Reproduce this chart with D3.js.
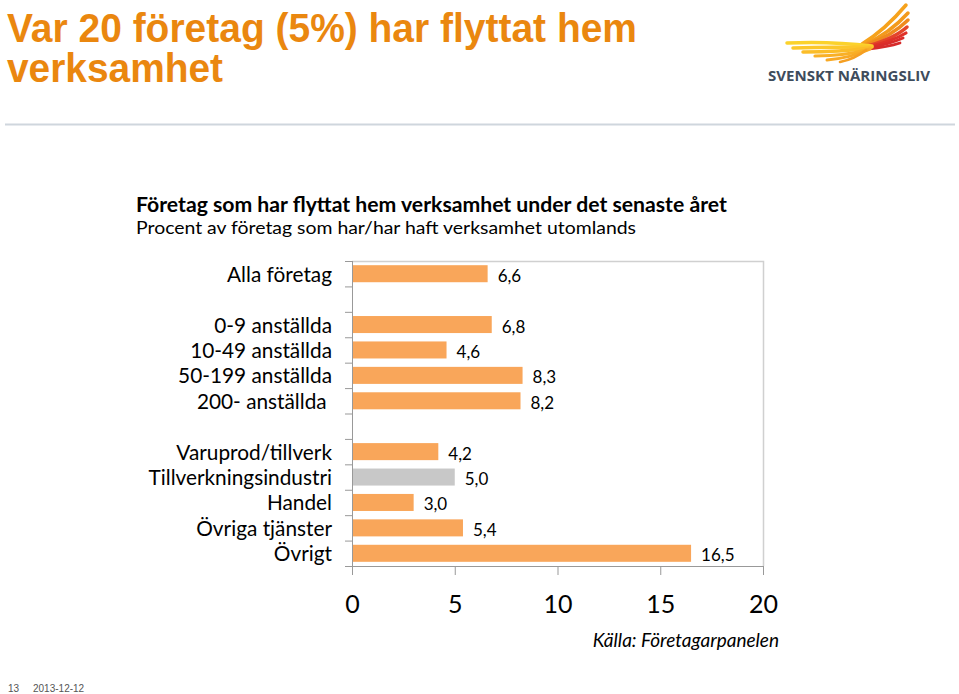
<!DOCTYPE html>
<html>
<head>
<meta charset="utf-8">
<script src="https://cdn.jsdelivr.net/npm/d3@7"></script>
<style>
  body { margin: 0; background: #fff; }
  svg { display: block; }
</style>
</head>
<body>
<div id="chart"></div>
<script>
// Data
const categories = [
  'Alla företag',
  '',
  '0-9 anställda',
  '10-49 anställda',
  '50-199 anställda',
  '200- anställda ',
  '',
  'Varuprod/tillverk',
  'Tillverkningsindustri',
  'Handel',
  'Övriga tjänster',
  'Övrigt',
];
const values = [6.6, null, 6.8, 4.6, 8.3, 8.2, null, 4.2, 5.0, 3.0, 5.4, 16.5];
const highlighted = [false, false, false, false, false, false, false, false, true, false, false, false];
const xTicks = [0, 5, 10, 15, 20];

// Dimensions
const width = 959;
const height = 694;
const plot = { left: 352, right: 763, top: 261, bottom: 566 };

const orange = '#f9a65a';
const grey = '#c8c8c8';
const calibri = 'Lato, "Open Sans", sans-serif';

const svg = d3.select('#chart')
  .append('svg')
  .attr('width', width)
  .attr('height', height);

// Title
const title = svg.append('g')
  .attr('font-family', '"Liberation Sans", Arial, sans-serif')
  .attr('font-weight', 'bold')
  .attr('font-size', 40)
  .attr('fill', '#ea870f');
title.append('text').attr('x', 7).attr('y', 42)
  .attr('textLength', 630).attr('lengthAdjust', 'spacingAndGlyphs')
  .text('Var 20 företag (5%) har flyttat hem');
title.append('text').attr('x', 7).attr('y', 82)
  .attr('textLength', 216).attr('lengthAdjust', 'spacingAndGlyphs')
  .text('verksamhet');

// Logo: fanned wing
const logo = svg.append('g');
const feathers = [
  // [tipX, tipY, baseX, baseY, ctrlX, ctrlY, colour, width]
  [906, 5, 862, 44, 885, 30, '#f6a21c', 3.5],
  [908, 13, 864, 45, 890, 33, '#f39a1c', 3.5],
  [908, 20, 866, 45, 892, 36, '#ef8a1e', 3.5],
  [907, 27, 868, 46, 895, 38, '#e4452a', 3.5],
  [906, 33, 868, 47, 893, 41, '#df3128', 3.2],
  [903, 38, 868, 48, 890, 44, '#d92c2a', 3],
  [900, 43, 868, 49, 888, 47, '#d62b2b', 2.8],
  [787, 43, 872, 46, 830, 41, '#fbd22c', 3.5],
  [793, 48, 872, 47, 835, 47, '#fcc72a', 3.5],
  [803, 52, 870, 48, 840, 52, '#fbbd28', 3.5],
  [815, 56, 870, 49, 845, 56, '#f9b026', 3.2],
  [827, 60, 868, 50, 850, 58, '#f8a925', 3],
  [840, 62, 866, 50, 855, 59, '#f59f22', 2.6],
];
logo.selectAll('path')
  .data(feathers)
  .enter()
  .append('path')
  .attr('d', d => `M${d[0]},${d[1]} Q${d[4]},${d[5]} ${d[2]},${d[3]}`)
  .attr('fill', 'none')
  .attr('stroke', d => d[6])
  .attr('stroke-width', d => d[7])
  .attr('stroke-linecap', 'round');
logo.append('text')
  .attr('x', 768).attr('y', 81)
  .attr('font-family', '"Open Sans", sans-serif')
  .attr('font-weight', 'bold')
  .attr('font-size', 15)
  .attr('fill', '#3e4c5c')
  .attr('textLength', 162).attr('lengthAdjust', 'spacingAndGlyphs')
  .text('SVENSKT NÄRINGSLIV');

// Separator
svg.append('line')
  .attr('x1', 5).attr('x2', 955)
  .attr('y1', 124.5).attr('y2', 124.5)
  .attr('stroke', '#cfd6dd')
  .attr('stroke-width', 2);

// Chart headings
svg.append('text')
  .attr('x', 136).attr('y', 212)
  .attr('font-family', calibri)
  .attr('font-weight', 'bold')
  .attr('font-size', 21.2)
  .attr('fill', '#000')
  .text('Företag som har flyttat hem verksamhet under det senaste året');
svg.append('text')
  .attr('x', 136).attr('y', 234)
  .attr('font-family', calibri)
  .attr('font-size', 17.5)
  .attr('fill', '#000')
  .attr('textLength', 500).attr('lengthAdjust', 'spacingAndGlyphs')
  .text('Procent av företag som har/har haft verksamhet utomlands');

// Scales
const x = d3.scaleLinear()
  .domain([0, 20])
  .range([plot.left, plot.right]);

const y = d3.scaleBand()
  .domain(d3.range(categories.length))
  .range([plot.top, plot.bottom])
  .paddingInner(0.33)
  .paddingOuter(0.165);

// Plot frame (top and right)
svg.append('path')
  .attr('d', `M${plot.left},${plot.top + 0.5} H${plot.right + 0.5} V${plot.bottom}`)
  .attr('fill', 'none')
  .attr('stroke', '#d0d0d0')
  .attr('stroke-width', 1.5);

// Bars
svg.append('g')
  .selectAll('rect')
  .data(values.map((v, i) => ({ v, i })).filter(d => d.v !== null))
  .enter()
  .append('rect')
  .attr('x', x(0))
  .attr('y', d => y(d.i))
  .attr('width', d => x(d.v) - x(0))
  .attr('height', y.bandwidth())
  .attr('fill', d => highlighted[d.i] ? grey : orange);

// Value labels
svg.append('g')
  .selectAll('text')
  .data(values.map((v, i) => ({ v, i })).filter(d => d.v !== null))
  .enter()
  .append('text')
  .attr('x', d => x(d.v) + 10)
  .attr('y', d => y(d.i) + y.bandwidth() / 2 + 8)
  .attr('font-family', calibri)
  .attr('font-size', 17)
  .attr('fill', '#000')
  .text(d => d3.format('.1f')(d.v).replace('.', ','));

// Category axis
const yAxis = svg.append('g');
const step = y.step();
yAxis.append('line')
  .attr('x1', plot.left + 0.5).attr('x2', plot.left + 0.5)
  .attr('y1', plot.top).attr('y2', plot.bottom + 9)
  .attr('stroke', '#999');
yAxis.selectAll('line.tick')
  .data(d3.range(categories.length + 1))
  .enter()
  .append('line')
  .attr('class', 'tick')
  .attr('x1', plot.left - 7).attr('x2', plot.left)
  .attr('y1', i => plot.top + i * step + 0.5)
  .attr('y2', i => plot.top + i * step + 0.5)
  .attr('stroke', '#999');
yAxis.selectAll('text')
  .data(categories)
  .enter()
  .append('text')
  .attr('x', 332)
  .attr('y', (d, i) => y(i) + y.bandwidth() / 2 + 8)
  .attr('text-anchor', 'end')
  .attr('font-family', calibri)
  .attr('font-size', 20.8)
  .attr('fill', '#000')
  .style('white-space', 'pre')
  .text(d => d);

// Value axis
const xAxis = svg.append('g')
  .attr('transform', `translate(0, ${plot.bottom})`)
  .call(d3.axisBottom(x).tickValues(xTicks).tickSize(9).tickFormat(d3.format('d')));
xAxis.select('.domain').attr('stroke', '#999');
xAxis.selectAll('.tick line').attr('stroke', '#999');
xAxis.selectAll('.tick text')
  .attr('font-family', calibri)
  .attr('font-size', 25)
  .attr('fill', '#000')
  .attr('dy', null)
  .attr('y', 47);

// Source
svg.append('text')
  .attr('x', 779).attr('y', 647)
  .attr('text-anchor', 'end')
  .attr('font-family', calibri)
  .attr('font-style', 'italic')
  .attr('font-size', 19)
  .attr('fill', '#000')
  .text('Källa: Företagarpanelen');

// Footer
const footer = svg.append('g')
  .attr('font-family', '"Liberation Sans", Arial, sans-serif')
  .attr('font-size', 10)
  .attr('fill', '#555');
footer.append('text').attr('x', 8).attr('y', 692).text('13');
footer.append('text').attr('x', 33).attr('y', 692).text('2013-12-12');
</script>
</body>
</html>
